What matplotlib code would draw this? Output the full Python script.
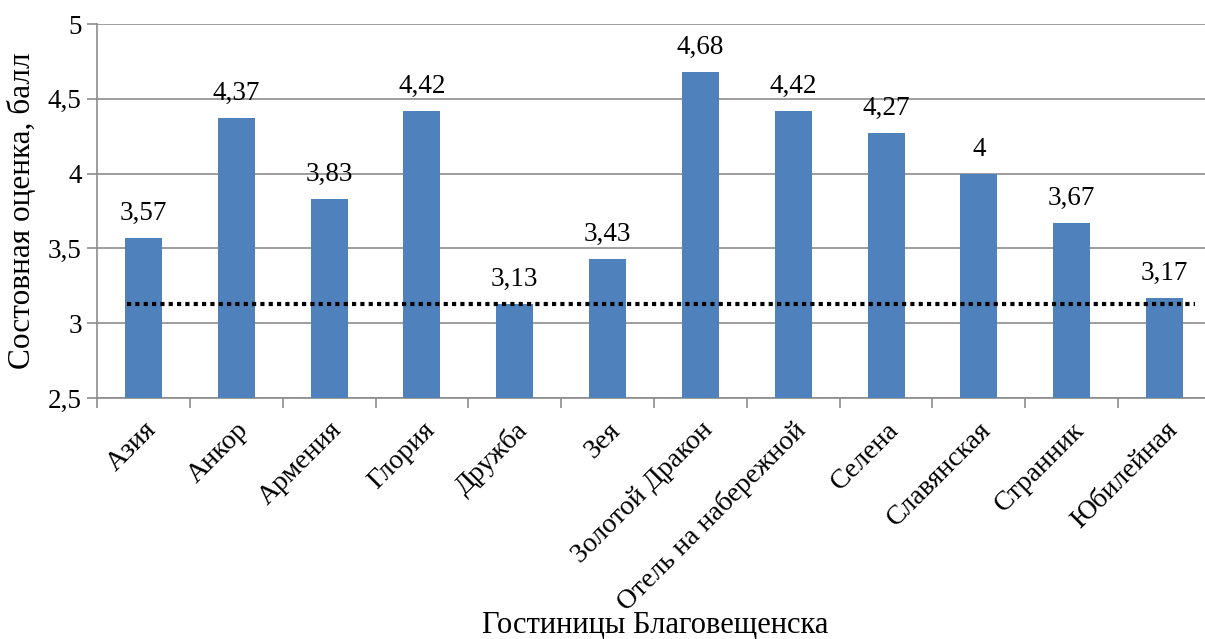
import matplotlib
matplotlib.use("Agg")
import matplotlib.pyplot as plt
from matplotlib.ticker import FixedLocator

hotels = ["Азия", "Анкор", "Армения", "Глория", "Дружба", "Зея", "Золотой Дракон",
          "Отель на набережной", "Селена", "Славянская", "Странник", "Юбилейная"]
scores = [3.57, 4.37, 3.83, 4.42, 3.13, 3.43, 4.68, 4.42, 4.27, 4.00, 3.67, 3.17]
value_labels = ["3,57", "4,37", "3,83", "4,42", "3,13", "3,43", "4,68", "4,42", "4,27", "4", "3,67", "3,17"]
yticks = [2.5, 3.0, 3.5, 4.0, 4.5, 5.0]
ytick_labels = ["2,5", "3", "3,5", "4", "4,5", "5"]
threshold = 3.13

plt.rcParams['font.family'] = ['Liberation Serif', 'DejaVu Serif']

fig = plt.figure(figsize=(12.05, 6.39), dpi=100)
W, H = 1205, 639
left, right, top, bottom = 97, 1211, 24, 398
ax = fig.add_axes([left / W, 1 - bottom / H, (right - left) / W, (bottom - top) / H])

x = list(range(len(hotels)))
ax.bar(x, scores, width=0.4, color="#4F81BD", zorder=3)
for xi, v, lab in zip(x, scores, value_labels):
    ax.text(xi, v + 0.08, lab, ha="center", va="bottom", fontsize=19.5)

ax.plot([-0.18, 11.33], [threshold, threshold], color="black", linestyle=(0, (1, 1)),
        linewidth=3, zorder=4)

ax.set_xlim(-0.5, len(hotels) - 0.5)
ax.set_ylim(2.5, 5)
ax.set_yticks(yticks)
ax.set_yticklabels(ytick_labels, fontsize=19.5)
ax.yaxis.grid(True, color="#8C8C8C", linewidth=1.2, zorder=0)

ax.set_xticks(x)
ax.set_xticklabels(hotels, fontsize=20, rotation=45, ha="right", rotation_mode="anchor")
for lbl in ax.get_xticklabels():
    lbl.set_x(lbl.get_position()[0])
ax.xaxis.set_minor_locator(FixedLocator([i + 0.5 for i in range(-1, len(hotels))]))
ax.tick_params(axis="x", which="major", length=0, pad=14)
ax.tick_params(axis="x", which="minor", length=7, color="#8C8C8C", width=1.2)
ax.tick_params(axis="y", length=7, color="#8C8C8C", width=1.2, pad=4)

for s in ["top", "right"]:
    ax.spines[s].set_visible(False)
for s in ["left", "bottom"]:
    ax.spines[s].set_color("#8C8C8C")
    ax.spines[s].set_linewidth(1.2)

ax.set_ylabel("Состовная оценка, балл", fontsize=22.5, labelpad=8)
fig.text(655 / W, 1 - 626 / H, "Гостиницы Благовещенска", ha="center", va="center", fontsize=22)

fig.savefig("out.png", dpi=100)
